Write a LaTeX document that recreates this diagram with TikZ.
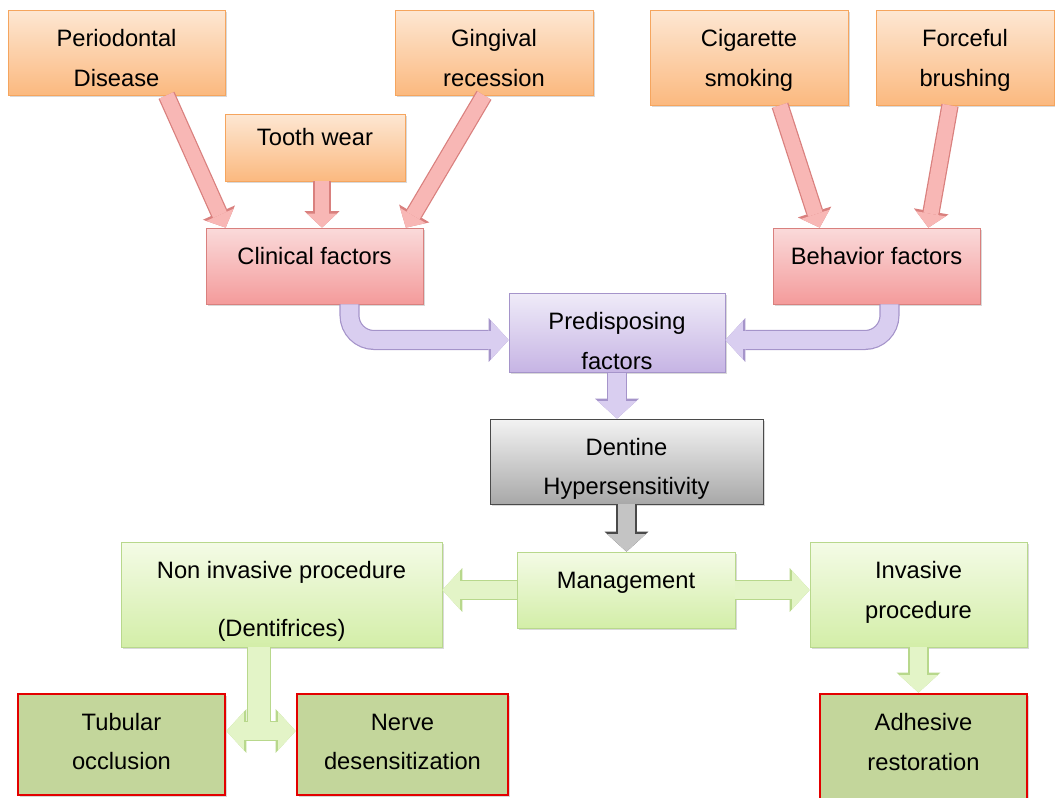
\documentclass[tikz,border=0pt]{standalone}
\usepackage{fontspec}
\setmainfont{Liberation Sans}
\usetikzlibrary{arrows.meta,shadows}

\definecolor{orTop}{HTML}{FDE7D3}
\definecolor{orBot}{HTML}{FBB97F}
\definecolor{orLine}{HTML}{F5A55E}
\definecolor{pkTop}{HTML}{FADADA}
\definecolor{pkBot}{HTML}{F49B9B}
\definecolor{pkLine}{HTML}{D9807E}
\definecolor{pkFill}{HTML}{F8B7B5}
\definecolor{puTop}{HTML}{EFEBF8}
\definecolor{puBot}{HTML}{C6B4E4}
\definecolor{puLine}{HTML}{A594CA}
\definecolor{puFill}{HTML}{D9CEF0}
\definecolor{gyTop}{HTML}{F3F3F3}
\definecolor{gyBot}{HTML}{A8A8A8}
\definecolor{gyLine}{HTML}{4A4A4A}
\definecolor{gyFill}{HTML}{C4C4C4}
\definecolor{grTop}{HTML}{F4FBE6}
\definecolor{grBot}{HTML}{D3EEA8}
\definecolor{grLine}{HTML}{B8D88C}
\definecolor{grFill}{HTML}{E3F4C7}
\definecolor{olFill}{HTML}{C3D69B}
\definecolor{olLine}{HTML}{E30000}

\begin{document}
\begin{tikzpicture}[x=0.02cm,y=-0.02cm,
  box/.style={draw,align=center,inner sep=2pt,font=\fontsize{13.5}{22.7}\selectfont,
              drop shadow={opacity=0.3,shadow xshift=1pt,shadow yshift=-1pt}},
  cause/.style={box,top color=orTop,bottom color=orBot,draw=orLine},
  factor/.style={box,top color=pkTop,bottom color=pkBot,draw=pkLine},
  predis/.style={box,top color=puTop,bottom color=puBot,draw=puLine},
  core/.style={box,top color=gyTop,bottom color=gyBot,draw=gyLine},
  manage/.style={box,top color=grTop,bottom color=grBot,draw=grLine},
  result/.style={box,fill=olFill,draw=olLine,line width=1.6pt,drop shadow={opacity=0}},
  up/.style={text height=10pt,text depth=12pt},
  fat/.style={line width=10pt,draw=#1Fill,-{Triangle[length=10pt,width=22pt,line width=0pt]},
              preaction={draw=#1Line,line width=11.4pt,-{Triangle[length=11.4pt,width=25pt,line width=0pt]}}},
  slim/.style={line width=8.5pt,draw=#1Fill,-{Triangle[length=8pt,width=17pt,line width=0pt]},
               preaction={draw=#1Line,line width=9.9pt,-{Triangle[length=9.4pt,width=20pt,line width=0pt]}}},
  fatboth/.style={line width=10pt,draw=#1Fill,
                  {Triangle[length=10pt,width=22pt,line width=0pt]}-{Triangle[length=10pt,width=22pt,line width=0pt]},
                  preaction={draw=#1Line,line width=11.4pt,
                  {Triangle[length=11.4pt,width=25pt,line width=0pt]}-{Triangle[length=11.4pt,width=25pt,line width=0pt]}}},
  shaftline/.style={draw=#1Line,line width=13.4pt},
  shaftfill/.style={draw=#1Fill,line width=12pt}]
\useasboundingbox (0,0) rectangle (1055,798);

% causes
\node[cause,text height=38.7pt,minimum width=4.34cm,minimum height=1.7cm] (peri) at (116.5,52.5) {Periodontal\\Disease};
\node[cause,text height=38.7pt,minimum width=3.96cm,minimum height=1.7cm] (ging) at (494,52.5) {Gingival\\recession};
\node[cause,up,minimum width=3.6cm,minimum height=1.34cm] (tooth) at (315,147.5) {Tooth wear};
\node[cause,text height=35.9pt,minimum width=3.96cm,minimum height=1.9cm] (cig) at (749,57.5) {Cigarette\\smoking};
\node[cause,text height=35.9pt,minimum width=3.56cm,minimum height=1.9cm] (force) at (965,57.5) {Forceful\\brushing};

% factors
\node[factor,up,minimum width=4.34cm,minimum height=1.52cm] (clin) at (314.5,266) {Clinical factors};
\node[factor,up,minimum width=4.14cm,minimum height=1.52cm] (behav) at (876.5,266) {Behavior factors};
\node[predis,text height=41pt,text depth=-3.5pt,minimum width=4.32cm,minimum height=1.52cm] (pred) at (617,333) {Predisposing\\factors};
\node[core,text height=40.9pt,minimum width=5.46cm,minimum height=1.7cm] (dent) at (626.5,461.5) {Dentine\\Hypersensitivity};

% management
\node[manage,up,minimum width=4.36cm,minimum height=1.52cm] (mgmt) at (626,590) {Management};
\node[manage,text height=50.5pt,minimum width=6.42cm,minimum height=2.1cm] (noninv) at (281.5,594.5) {Non invasive procedure\\[10pt](Dentifrices)};
\node[manage,text height=30.3pt,minimum width=4.34cm,minimum height=2.1cm] (inv) at (918.5,594.5) {Invasive\\procedure};
\node[result,text height=29.1pt,minimum width=4.14cm,minimum height=2.02cm] (tub) at (121.5,744.5) {Tubular\\occlusion};
\node[result,text height=29.1pt,minimum width=4.22cm,minimum height=2.02cm] (nerve) at (402.5,744.5) {Nerve\\desensitization};
\node[result,text height=26.9pt,minimum width=4.14cm,minimum height=2.12cm] (adh) at (923.5,747) {Adhesive\\restoration};

% arrows
\draw[slim=pk] ([xshift=1cm]peri.south) -- ([xshift=0.4cm]clin.north west);
\draw[slim=pk] ([xshift=0.14cm]tooth.south) -- ([xshift=0.14cm]tooth.south |- clin.north);
\draw[slim=pk] ([xshift=-0.2cm]ging.south) -- ([xshift=-0.35cm]clin.north east);
\draw[slim=pk] ([xshift=0.62cm]cig.south) -- ([xshift=0.94cm]behav.north west);
\draw[slim=pk] ([xshift=-0.3cm]force.south) -- ([xshift=-1.04cm]behav.north east);

\draw[fat=pu,rounded corners=14pt] ([xshift=0.7cm]clin.south) |- ([yshift=-0.14cm]pred.west);
\draw[fat=pu,rounded corners=14pt] ([xshift=0.26cm]behav.south) |- ([yshift=-0.14cm]pred.east);
\draw[fat=pu] (pred.south) -- (pred.south |- dent.north);
\draw[fat=gy] (dent.south) -- (dent.south |- mgmt.north);

\draw[fat=gr] (mgmt.west) -- (mgmt.west -| noninv.east);
\draw[fat=gr] (mgmt.east) -- (mgmt.east -| inv.west);
\draw[fat=gr] (inv.south) -- (inv.south |- adh.north);

\coordinate (split) at (259,731);
\draw[shaftline=gr] (noninv.south -| split) -- (split);
\draw[fatboth=gr] (tub.east |- split) -- (nerve.west |- split);
\draw[shaftfill=gr] (noninv.south -| split) -- (split);
\end{tikzpicture}
\end{document}
